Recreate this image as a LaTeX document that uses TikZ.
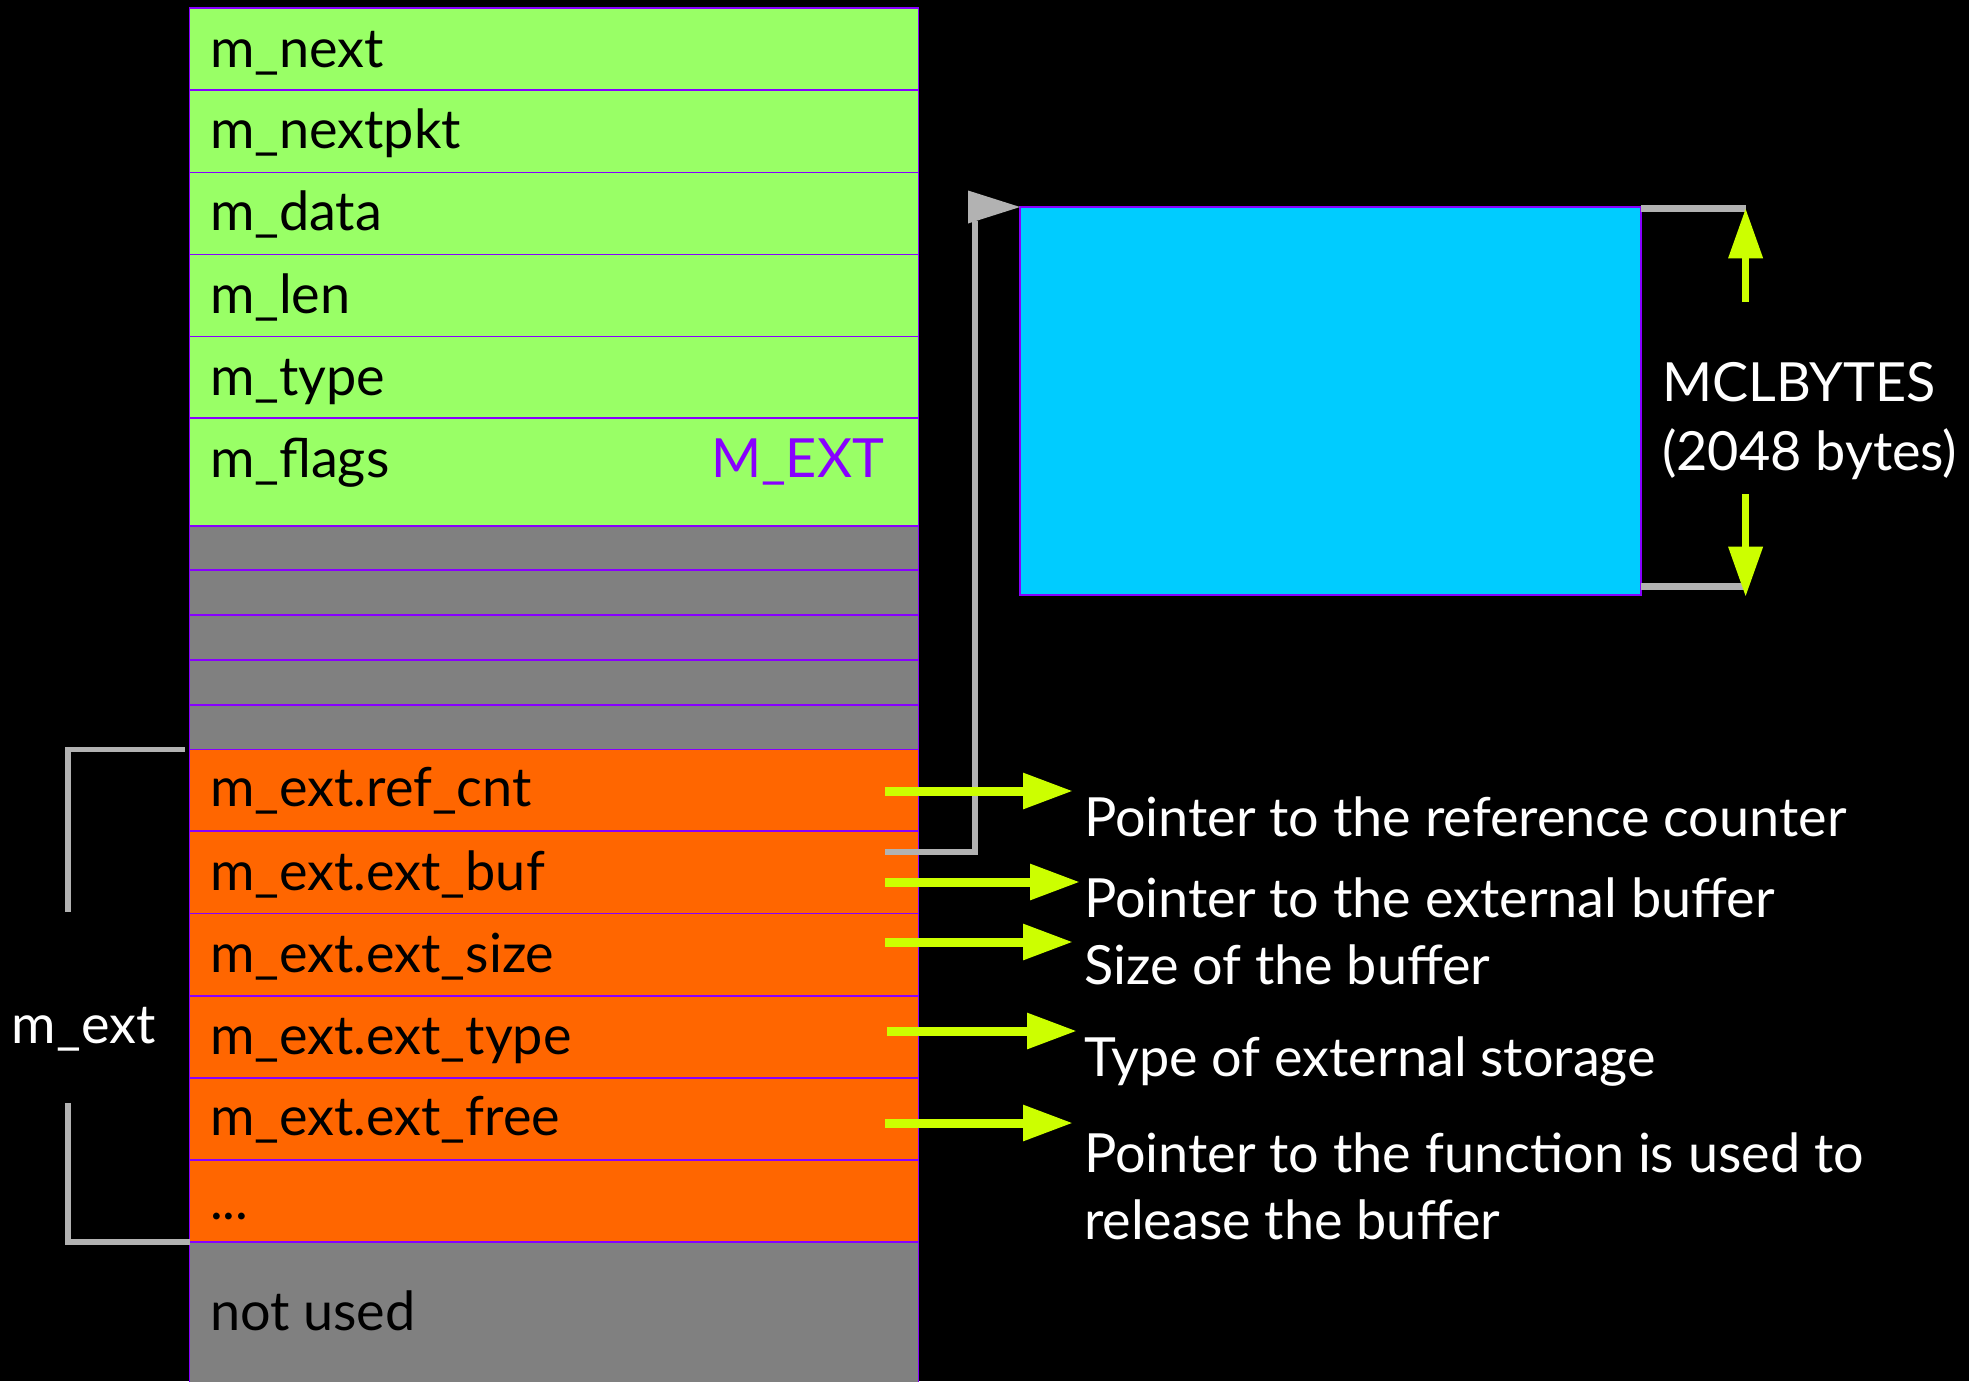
\documentclass[tikz,border=0pt]{standalone}
\usepackage{fontspec}
\setmainfont{Lato}
\usetikzlibrary{arrows.meta}
\definecolor{grn}{RGB}{153,255,102}
\definecolor{gry}{RGB}{128,128,128}
\definecolor{org}{RGB}{255,102,0}
\definecolor{cyn}{RGB}{0,204,255}
\definecolor{pur}{RGB}{136,0,255}
\definecolor{ylw}{RGB}{204,255,0}
\definecolor{lgry}{RGB}{178,178,178}
\begin{document}
\begin{tikzpicture}[x=1pt,y=-1pt,
  cell/.style={draw=pur, line width=1.5pt, inner sep=0pt, outer sep=0pt, anchor=north west, minimum width=729pt},
  txt/.style={anchor=base west, inner sep=0pt, outer sep=0pt, font=\fontsize{54}{65}\selectfont},
  brk/.style={draw=lgry, line width=5.5pt},
  ptr/.style={draw=lgry, line width=6pt},
  yarr/.style={draw=ylw, line width=9pt, -{Triangle[length=50pt,width=34pt]}},
  varr/.style={draw=ylw, line width=7pt, -{Triangle[length=50pt,width=33pt]}}]
\fill[black] (0,0) rectangle (1969,1381);
\useasboundingbox (0,0) rectangle (1969,1381);

% memory cells
\foreach \n/\t/\b/\c in {g1/8/90/grn, g2/90/172.5/grn, g3/172.5/254.5/grn, g4/254.5/336.5/grn, g5/336.5/418/grn, g6/418/526/grn,
  h1/526/570/gry, h2/570/615/gry, h3/615/660/gry, h4/660/705/gry, h5/705/749.5/gry,
  o1/749.5/831/org, o2/831/913.5/org, o3/913.5/996/org, o4/996/1078/org, o5/1078/1160/org, o6/1160/1242/org,
  nu/1242/1395/gry}
  \node[cell, fill=\c, minimum height=\b-\t] (\n) at (189.5,\t) {};

% cell labels
\node[txt] (t1) at (210,67) {m\_next};
\node[txt] (t2) at (210,148) {m\_nextpkt};
\node[txt] (t3) at (210,230) {m\_data};
\node[txt] (t4) at (210,313) {m\_len};
\node[txt] (t5) at (210,395) {m\_type};
\node[txt] (t6) at (210,477) {m\_flags};
\node[txt, text=pur] (mflag) at (711,477) {M\_EXT};
\node[txt] (e1) at (210,806) {m\_ext.ref\_cnt};
\node[txt] (e2) at (210,890) {m\_ext.ext\_buf};
\node[txt] (e3) at (210,972) {m\_ext.ext\_size};
\node[txt] (e4) at (210,1054) {m\_ext.ext\_type};
\node[txt] (e5) at (210,1135.6) {m\_ext.ext\_free};
\node[txt] (e6) at (210,1219) {...};
\node[txt] (e7) at (210,1330) {not used};

% m_ext bracket
\node[txt, text=white] (mextl) at (12,1043) {m\_ext};
\coordinate (bt) at (68,912);
\coordinate (bb) at (68,1103);
\path[brk] ([xshift=-5pt]o1.north west) -| (bt);
\path[brk] (bb) |- (o6.south west);

% external buffer
\node[draw=pur, line width=1.5pt, fill=cyn, inner sep=0pt, outer sep=0pt, anchor=north west,
  minimum width=621pt, minimum height=388pt] (buf) at (1020,207) {};
\coordinate (bufsrc) at (885,852);
\path[ptr] (bufsrc) -| ([xshift=-45pt,yshift=-14pt]buf.north west);
\fill[lgry] ([xshift=-52pt,yshift=16.5pt]buf.north west) -- (buf.north west) -- ([xshift=-52pt,yshift=-16.5pt]buf.north west) -- cycle;

% size dimension
\path[draw=lgry, line width=7pt] ([yshift=-1.7pt]buf.north east) -- ++(105,0) coordinate (dt);
\path[draw=lgry, line width=7pt] ([yshift=8.3pt]buf.south east) -- ++(105,0) coordinate (db);
\node[txt, text=white] (mcl) at (1662,401.7) {MCLBYTES};
\node[txt, text=white] (mcl2) at (1662,470) {(2048 bytes)};
\coordinate (vu) at (1745.6,301.7);
\coordinate (vd) at (1745.6,494);
\path[varr] (vu) -- (1745.6,208.3);
\path[varr] (vd) -- (1745.6,596.7);

% descriptions
\node[txt, text=white] (d1) at (1084,836) {Pointer to the reference counter};
\node[txt, text=white] (d2) at (1084,917.7) {Pointer to the external buffer};
\node[txt, text=white] (d3) at (1084,984) {Size of the buffer};
\node[txt, text=white] (d4) at (1084,1076) {Type of external storage};
\node[txt, text=white] (d5) at (1084,1172.7) {Pointer to the function is used to};
\node[txt, text=white] (d6) at (1084,1239) {release the buffer};

\coordinate (s1) at (885,791);   \coordinate (a1) at (1073,791);
\coordinate (s2) at (885,882);   \coordinate (a2) at (1080,882);
\coordinate (s3) at (885,942);   \coordinate (a3) at (1073,942);
\coordinate (s4) at (887,1031);  \coordinate (a4) at (1077,1031);
\coordinate (s5) at (885,1123);  \coordinate (a5) at (1073,1123);
\foreach \i in {1,...,5} \path[yarr] (s\i) -- (a\i);
\end{tikzpicture}
\end{document}
